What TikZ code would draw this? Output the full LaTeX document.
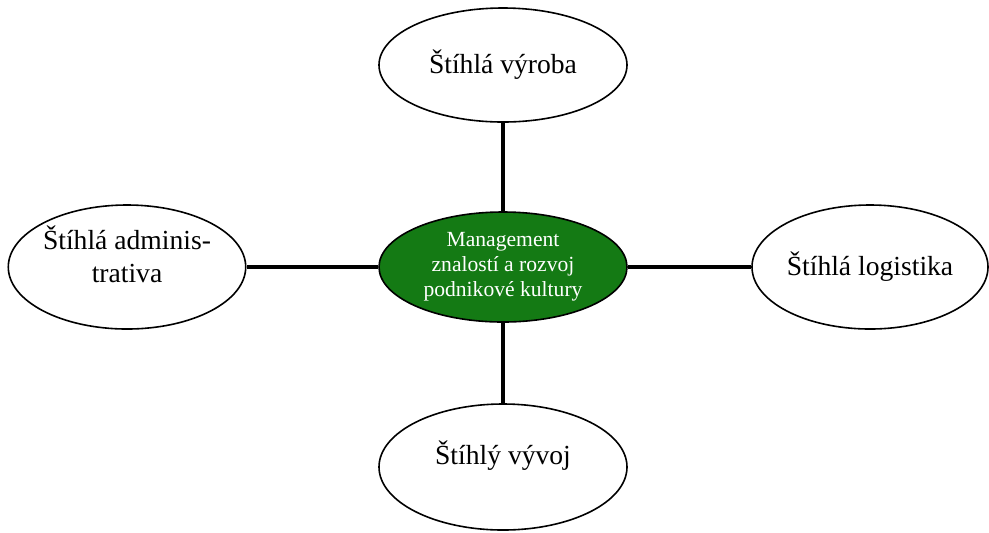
\documentclass[tikz,border=0pt]{standalone}
\usepackage{fontspec}
\setmainfont{Liberation Serif}
\usetikzlibrary{shapes.geometric}
\definecolor{hubgreen}{RGB}{20,122,20}
\tikzset{
  topic/.style={ellipse, draw=black, line width=0.8pt, fill=white, inner sep=0pt,
    align=center, font=\fontsize{13.8}{16.5}\selectfont},
  hub/.style={ellipse, draw=black, line width=0.8pt, fill=hubgreen, text=white,
    inner sep=0pt, align=center, font=\fontsize{10.8}{12.5}\selectfont},
  link/.style={line width=2.2pt, black}
}
\begin{document}
\begin{tikzpicture}[x=0.5pt, y=-0.5pt]
  \useasboundingbox (0,0) rectangle (989,532);
  \node[hub, minimum width=124pt, minimum height=55pt] (hub) at (503,267)
    {Management\\znalostí a rozvoj\\podnikové kultury};
  \node[topic, minimum width=124pt, minimum height=57pt] (vyroba) at (503,65)
    {Štíhlá výroba};
  \node[topic, minimum width=117pt, minimum height=62pt] (admin) at (127,267)
    {Štíhlá adminis-\\trativa\\[-4pt]};
  \node[topic, minimum width=118pt, minimum height=62pt] (logist) at (870,267)
    {Štíhlá logistika};
  \node[topic, minimum width=124pt, minimum height=63pt] (vyvoj) at (503,467)
    {Štíhlý vývoj\\[-2pt]};
  \draw[link] (vyroba) -- (hub);
  \draw[link] (hub) -- (vyvoj);
  \draw[link] (admin) -- (hub);
  \draw[link] (hub) -- (logist);
\end{tikzpicture}
\end{document}
